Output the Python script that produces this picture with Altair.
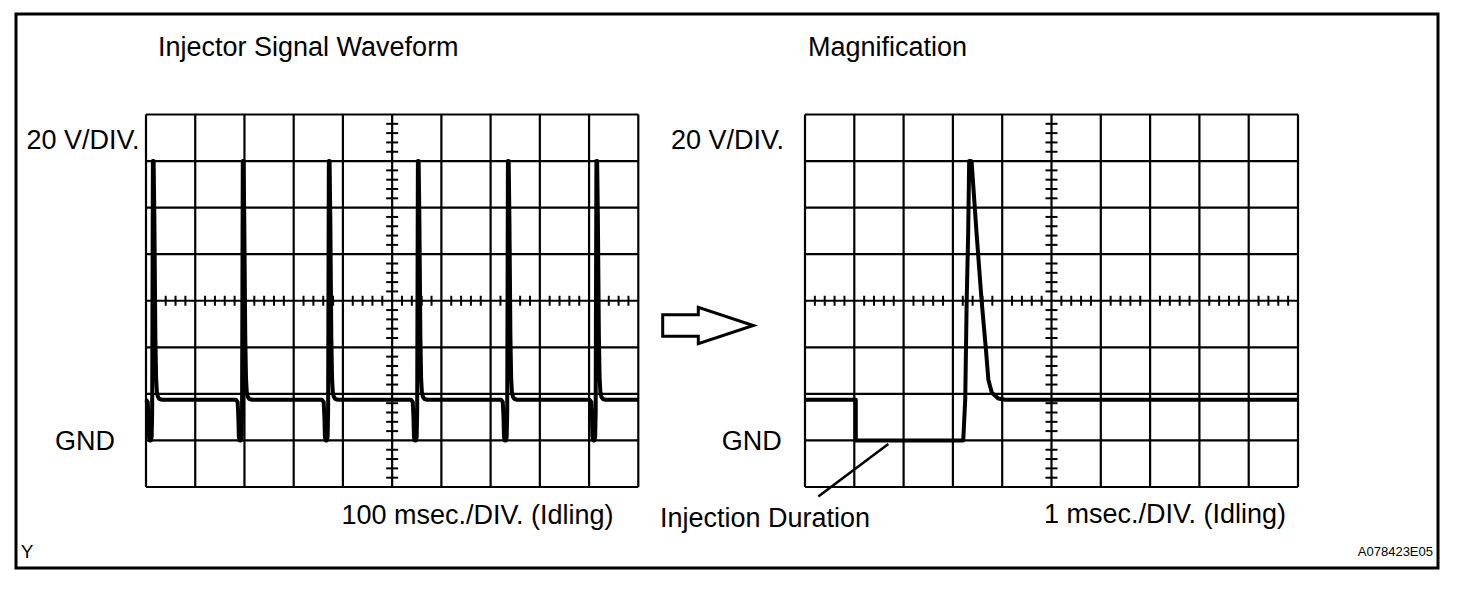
import altair as alt
import pandas as pd

# ---------------- values ----------------
# oscilloscope graticule (10 x 8 divisions)
left_time_gridlines_ms = [0, 100, 200, 300, 400, 500, 600, 700, 800, 900, 1000]   # 100 msec./DIV.
right_time_gridlines_ms = [0, 1, 2, 3, 4, 5, 6, 7, 8, 9, 10]                      # 1 msec./DIV.
volt_gridlines_v = [-20, 0, 20, 40, 60, 80, 100, 120, 140]                        # 20 V/DIV., GND = 0

# left trace: injector pulses (start of each drop to GND) and one pulse's shape
injector_drop_ms = [5.0, 187.6, 362.4, 543.3, 726.2, 905.9]
pulse_offset_ms = [-5, -1.5, 0, 1, 2.5, 5, 6.5, 7.5, 9, 10.5, 12, 14, 15.5, 17, 19, 22, 28]
pulse_volts = [17.5, 16.5, 10, 1.5, 0, 0, 1.5, 12, 120, 120, 95, 45, 27, 21, 18.8, 17.8, 17.5]
left_end_ms = [1000]
left_end_v = [17.5]

# right trace: magnified single pulse
mag_time_ms = [0, 1.03, 1.03, 3.21, 3.25, 3.28, 3.31, 3.33, 3.37, 3.38, 3.48, 3.58,
               3.67, 3.72, 3.79, 3.92, 4.06, 10]
mag_volts = [17.5, 17.5, 0, 0, 17.6, 60.6, 89, 120, 120, 119.5, 89, 60.6,
             39, 26, 20.5, 18, 17.5, 17.5]

# leader line of "Injection Duration"
leader_ms = [1.69, 0.27]
leader_v = [-1.5, -24.1]

# texts
title_left = "Injector Signal Waveform"
title_right = "Magnification"
volt_label = "20 V/DIV."
gnd_label = "GND"
time_left_label = "100 msec./DIV. (Idling)"
time_right_label = "1 msec./DIV. (Idling)"
duration_label = "Injection Duration"
corner_left = "Y"
corner_right = "A078423E05"

# ---------------- tables ----------------
rows_t, rows_v = [], []
for d in injector_drop_ms:
    for o, v in zip(pulse_offset_ms, pulse_volts):
        rows_t.append(d + o)
        rows_v.append(v)
rows_t += left_end_ms
rows_v += left_end_v
left_trace = pd.DataFrame({"t": rows_t, "v": rows_v, "i": range(len(rows_t))})
right_trace = pd.DataFrame({"t": mag_time_ms, "v": mag_volts, "i": range(len(mag_time_ms))})
leader = pd.DataFrame({"t": leader_ms, "v": leader_v, "i": [0, 1]})

XL = alt.Scale(domain=[0, 1000], range=[138, 630.3], nice=False, zero=False)
XR = alt.Scale(domain=[0, 10], range=[797, 1290], nice=False, zero=False)
Y = alt.Scale(domain=[-20, 140], range=[479, 106.5], nice=False, zero=False)

GRID = dict(color="black", strokeWidth=2.2)


def panel(times, scale, t_end, t_center, minor_step):
    vdf = pd.DataFrame({"t": times, "v0": -20, "v1": 140})
    vr = alt.Chart(vdf).mark_rule(**GRID).encode(
        x=alt.X("t:Q", scale=scale, axis=None),
        y=alt.Y("v0:Q", scale=Y, axis=None), y2="v1:Q")
    hdf = pd.DataFrame({"v": volt_gridlines_v, "t0": 0, "t1": t_end})
    hr = alt.Chart(hdf).mark_rule(**GRID).encode(
        x=alt.X("t0:Q", scale=scale, axis=None), x2="t1:Q",
        y=alt.Y("v:Q", scale=Y, axis=None))
    minor_t = [k * minor_step for k in range(1, 50) if k % 5]
    minor_v = [-20 + 4 * k for k in range(1, 40) if k % 5]
    ht = alt.Chart(pd.DataFrame({"t": minor_t, "v": 60})).mark_tick(
        orient="vertical", size=10, thickness=2, color="black", opacity=1).encode(
        x=alt.X("t:Q", scale=scale, axis=None), y=alt.Y("v:Q", scale=Y, axis=None))
    vt = alt.Chart(pd.DataFrame({"t": t_center, "v": minor_v})).mark_tick(
        orient="horizontal", size=12, thickness=2, color="black", opacity=1).encode(
        x=alt.X("t:Q", scale=scale, axis=None), y=alt.Y("v:Q", scale=Y, axis=None))
    return [vr, hr, ht, vt]


def trace(df, scale, width):
    return alt.Chart(df).mark_line(color="black", strokeWidth=width, strokeJoin="round").encode(
        x=alt.X("t:Q", scale=scale, axis=None),
        y=alt.Y("v:Q", scale=Y, axis=None),
        order="i:Q")


one = pd.DataFrame({"a": [0]})
FONT = "Liberation Sans"


def label(text, x, y, size=27, align="center", font=FONT):
    return alt.Chart(one).mark_text(text=text, font=font, fontSize=size, align=align,
                                    baseline="alphabetic", color="black").encode(
        x=alt.value(x), y=alt.value(y))


frame = alt.Chart(one).mark_rect(fill="white", fillOpacity=0, stroke="black", strokeWidth=3).encode(
    x=alt.value(8), x2=alt.value(1430), y=alt.value(6), y2=alt.value(560))

arrow_path = "M -1 -0.236 L -0.214 -0.236 L -0.214 -0.4 L 1 0 L -0.214 0.4 L -0.214 0.236 L -1 0.236 Z"
arrow = alt.Chart(one).mark_point(shape=arrow_path, size=8208, filled=True, fill="white",
                                  stroke="black", strokeWidth=3, opacity=1).encode(
    x=alt.value(700), y=alt.value(317.5))

layers = [frame]
layers += panel(left_time_gridlines_ms, XL, 1000, 500, 20)
layers += panel(right_time_gridlines_ms, XR, 10, 5, 0.2)
layers += [trace(left_trace, XL, 4), trace(right_trace, XR, 4), trace(leader, XR, 2.5)]
layers += [
    arrow,
    label(title_left, 150, 48, align="left"),
    label(title_right, 800, 48, align="left"),
    label(volt_label, 75, 140.5),
    label(volt_label, 719.5, 140.5),
    label(gnd_label, 77, 442),
    label(gnd_label, 743.7, 442),
    label(time_left_label, 469.5, 515.5),
    label(time_right_label, 1157, 515),
    label(duration_label, 757, 519),
    label(corner_left, 19, 550, size=19),
    label(corner_right, 1425, 548, size=13, align="right",
          font="Liberation Sans Narrow, Liberation Sans"),
]

chart = alt.layer(*layers).resolve_scale(x="independent").properties(
    width=1440, height=566, padding=0,
    autosize=alt.AutoSizeParams(type="none"),
    background="white",
).configure_view(strokeWidth=0)

chart.save("out.html", embed_options={"renderer": "svg", "actions": False})
